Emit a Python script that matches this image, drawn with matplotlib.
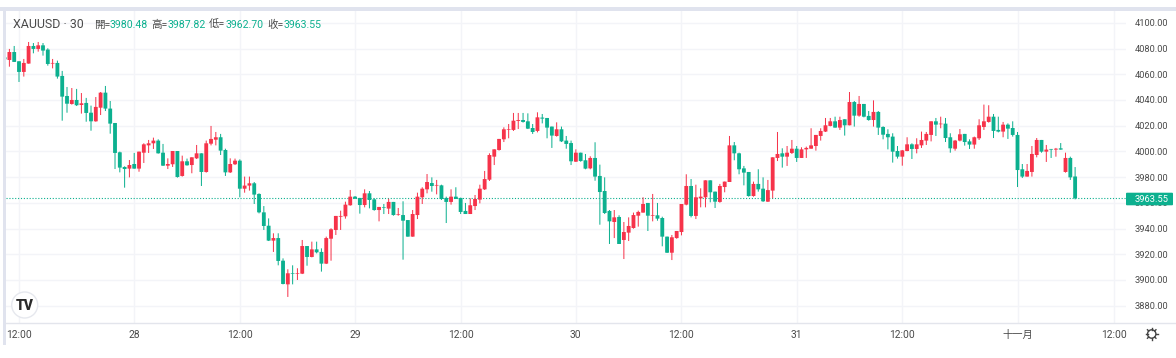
import numpy as np
from matplotlib import pyplot as plt
from matplotlib.patches import Rectangle, Circle, FancyBboxPatch

plt.rcParams['font.family'] = ['Roboto', 'Noto Sans CJK TC', 'DejaVu Sans']

W, H = 1176, 358
GREEN = '#0CB08F'
RED = '#F6334A'
GRID = '#F3F4F8'
BAND = '#E0E3EE'
TEXT = '#4A4A4A'

first_bar = -3
opens = [4073.2, 4071.1, 4077.3, 4070.1, 4061.8, 4068.3, 4082.0, 4079.7, 4082.5, 4079.2, 4068.3, 4068.8,
         4058.7, 4043.1, 4036.9, 4040.0, 4036.1, 4037.7, 4030.1, 4023.4, 4034.0, 4045.7, 4033.3, 4022.1,
         3999.3, 3987.9, 3986.6, 3990.2, 3986.6, 3999.0, 4004.7, 4006.3, 4008.4, 3999.0, 3988.9, 3990.0,
         4000.3, 3980.9, 3992.3, 3989.4, 3994.6, 3998.5, 3984.0, 4006.0, 4009.1, 4011.0, 4001.1, 3983.7,
         3990.0, 3992.8, 3971.0, 3973.4, 3975.2, 3966.9, 3952.6, 3942.2, 3930.6, 3932.6, 3915.0, 3896.6,
         3905.2, 3904.9, 3904.9, 3926.4, 3917.9, 3923.8, 3921.8, 3912.7, 3932.1, 3938.9, 3949.2, 3949.5,
         3958.1, 3964.8, 3963.8, 3958.3, 3967.4, 3962.7, 3954.4, 3956.5, 3955.5, 3960.7, 3950.8, 3950.5,
         3946.6, 3933.7, 3950.5, 3964.3, 3970.5, 3975.4, 3973.4, 3973.6, 3963.8, 3960.7, 3964.8, 3963.8,
         3953.7, 3951.3, 3957.5, 3962.5, 3970.5, 3978.0, 3995.9, 4001.1, 4009.4, 4016.9, 4016.7, 4023.7,
         4024.4, 4023.4, 4018.2, 4015.9, 4026.3, 4026.0, 4019.3, 4012.0, 4017.2, 4008.4, 4006.5, 3992.0,
         3999.0, 3993.1, 3986.8, 3994.9, 3980.9, 3969.2, 3953.7, 3945.1, 3949.0, 3931.1, 3936.8, 3940.4,
         3950.0, 3952.4, 3959.9, 3949.8, 3950.3, 3948.2, 3933.7, 3921.2, 3932.6, 3937.3, 3958.6, 3973.1,
         3949.8, 3963.5, 3964.3, 3977.5, 3968.7, 3960.7, 3972.3, 3976.2, 4004.7, 3998.5, 3986.8, 3984.0,
         3965.3, 3974.7, 3971.0, 3960.9, 3969.5, 3994.9, 3998.5, 3995.9, 3998.8, 4002.1, 3994.9, 4001.6,
         4002.1, 4004.2, 4012.0, 4015.4, 4019.8, 4023.4, 4018.5, 4025.0, 4020.3, 4038.4, 4027.8, 4036.9,
         4027.6, 4024.4, 4030.7, 4019.0, 4013.6, 4011.5, 4000.3, 3995.9, 4000.3, 4005.5, 4001.9, 4004.7,
         4008.4, 4012.8, 4023.4, 4021.1, 4021.6, 4011.0, 4002.1, 4008.4, 4013.6, 4007.8, 4005.3, 4010.2,
         4019.0, 4022.9, 4027.0, 4016.7, 4015.4, 4020.8, 4018.2, 4012.8, 3986.1, 3980.4, 3984.0, 3997.2,
         4008.9, 3999.8, 4001.9, 4001.4, 4002.4, 3984.0, 3994.9, 3980.48]
closes = [4071.6, 4077.3, 4069.6, 4061.8, 4068.8, 4082.0, 4079.7, 4082.5, 4078.4, 4068.0, 4068.8, 4058.2,
          4042.6, 4037.1, 4040.0, 4035.9, 4037.4, 4029.9, 4023.4, 4034.6, 4045.7, 4033.3, 4021.6, 3998.8,
          3987.4, 3986.3, 3989.4, 3986.6, 3999.8, 4005.5, 4006.3, 4008.4, 3998.5, 3988.9, 3990.2, 4000.3,
          3980.1, 3992.3, 3989.2, 3995.4, 3998.5, 3984.0, 4006.3, 4009.7, 4011.0, 4000.6, 3983.7, 3990.2,
          3992.8, 3971.0, 3973.4, 3975.2, 3966.4, 3952.6, 3942.0, 3930.6, 3932.6, 3914.8, 3896.9, 3905.2,
          3904.9, 3905.2, 3926.4, 3917.9, 3923.8, 3921.5, 3912.7, 3932.6, 3939.4, 3949.8, 3949.8, 3958.6,
          3964.8, 3963.2, 3958.3, 3967.4, 3962.2, 3954.4, 3956.8, 3956.0, 3960.7, 3950.5, 3951.3, 3946.1,
          3933.7, 3951.3, 3964.8, 3971.0, 3976.2, 3973.1, 3973.9, 3963.0, 3960.7, 3964.8, 3963.0, 3952.9,
          3951.3, 3958.1, 3963.0, 3971.0, 3978.5, 3997.2, 4001.6, 4009.7, 4017.2, 4017.4, 4023.9, 4024.4,
          4022.9, 4017.7, 4015.1, 4026.5, 4025.5, 4018.5, 4012.3, 4017.2, 4007.8, 4005.8, 3992.3, 3999.0,
          3992.5, 3986.6, 3994.9, 3980.4, 3968.4, 3952.1, 3945.6, 3948.7, 3928.0, 3937.3, 3942.0, 3950.5,
          3952.9, 3959.1, 3950.0, 3950.3, 3947.7, 3933.7, 3921.2, 3933.2, 3938.1, 3959.1, 3973.1, 3949.8,
          3964.3, 3964.8, 3977.5, 3968.2, 3960.9, 3973.1, 3976.5, 4004.7, 3998.5, 3986.1, 3983.5, 3965.3,
          3974.7, 3970.5, 3961.2, 3969.9, 3995.4, 3998.0, 3995.9, 3999.0, 4002.1, 3994.9, 4001.6, 4002.7,
          4004.7, 4012.8, 4015.9, 4020.3, 4023.4, 4018.5, 4024.4, 4020.3, 4038.4, 4027.8, 4036.9, 4027.0,
          4024.4, 4030.7, 4018.5, 4013.0, 4011.0, 3999.8, 3995.9, 4000.8, 4005.5, 4001.9, 4005.5, 4008.9,
          4013.6, 4023.4, 4020.8, 4021.6, 4010.4, 4002.4, 4008.4, 4013.3, 4007.3, 4005.3, 4011.0, 4020.3,
          4023.4, 4027.0, 4015.9, 4015.4, 4020.8, 4017.7, 4012.8, 3985.5, 3980.4, 3984.8, 3998.0, 4008.9,
          3999.8, 4001.4, 4001.4, 4002.1, 4001.4, 3994.9, 3979.8, 3963.55]
highs = [4073.2, 4079.7, 4082.0, 4070.1, 4071.9, 4085.1, 4084.3, 4085.1, 4084.3, 4080.2, 4071.9, 4070.6,
         4062.6, 4050.1, 4049.3, 4048.6, 4045.4, 4041.6, 4035.6, 4042.3, 4046.2, 4050.9, 4039.2, 4022.1,
         3999.8, 3988.4, 3993.3, 3998.8, 3999.8, 4006.3, 4008.9, 4010.7, 4009.4, 4005.8, 3994.6, 4000.3,
         4000.3, 3996.7, 3994.4, 3995.4, 4005.0, 3998.5, 4008.4, 4019.8, 4015.1, 4013.6, 4002.1, 3994.6,
         3994.4, 3993.8, 3980.4, 3980.4, 3976.2, 3967.4, 3957.5, 3947.9, 3936.3, 3936.3, 3916.8, 3908.3,
         3911.4, 3909.1, 3931.1, 3926.4, 3929.8, 3929.8, 3924.6, 3933.7, 3940.2, 3949.8, 3953.9, 3960.9,
         3970.0, 3965.3, 3963.8, 3970.5, 3969.2, 3963.5, 3956.8, 3959.1, 3963.2, 3960.7, 3956.0, 3961.2,
         3946.6, 3954.4, 3967.9, 3972.1, 3982.4, 3979.8, 3977.8, 3974.1, 3964.8, 3970.5, 3972.1, 3964.0,
         3959.9, 3963.5, 3966.1, 3974.1, 3984.8, 3998.5, 4001.6, 4009.7, 4018.7, 4021.3, 4029.9, 4029.9,
         4029.9, 4029.6, 4021.3, 4030.4, 4029.1, 4026.0, 4019.3, 4022.6, 4019.3, 4012.0, 4008.4, 4001.6,
         3999.0, 3998.0, 3996.2, 4007.1, 3989.7, 3979.8, 3954.4, 3954.4, 3950.3, 3945.1, 3948.7, 3952.4,
         3953.9, 3964.3, 3959.9, 3966.9, 3959.9, 3949.2, 3933.7, 3935.0, 3938.1, 3959.1, 3982.2, 3978.5,
         3974.1, 3971.3, 3977.5, 3977.5, 3968.7, 3974.7, 3976.5, 4012.0, 4007.3, 3999.0, 3988.7, 3984.0,
         3976.5, 3986.1, 3979.8, 3977.8, 3995.4, 4015.1, 4002.4, 4004.2, 4008.9, 4004.2, 4003.2, 4003.7,
         4018.0, 4012.8, 4018.0, 4026.0, 4026.0, 4027.0, 4027.0, 4025.0, 4046.2, 4039.2, 4043.1, 4036.9,
         4031.4, 4039.7, 4031.4, 4019.5, 4017.2, 4014.1, 4004.2, 4001.1, 4011.0, 4006.3, 4010.2, 4015.4,
         4015.1, 4023.4, 4026.0, 4027.0, 4026.0, 4014.1, 4008.9, 4017.4, 4013.6, 4009.4, 4011.5, 4025.0,
         4036.4, 4035.9, 4029.1, 4027.0, 4022.9, 4021.8, 4023.4, 4015.1, 3990.2, 3990.2, 4004.2, 4010.4,
         4008.9, 4005.0, 4001.9, 4002.7, 4006.5, 3999.0, 3995.9, 3987.82]
lows = [4071.6, 4065.9, 4069.6, 4054.0, 4058.2, 4068.3, 4076.3, 4077.6, 4074.5, 4066.7, 4064.6, 4056.6,
        4023.9, 4030.1, 4036.4, 4035.3, 4029.4, 4023.1, 4016.1, 4023.1, 4028.3, 4031.4, 4013.8, 3986.3,
        3983.7, 3971.8, 3979.8, 3986.6, 3984.2, 3991.0, 3998.8, 4001.9, 3998.3, 3988.7, 3986.3, 3987.9,
        3979.6, 3980.4, 3988.9, 3983.0, 3994.1, 3973.1, 3983.5, 4004.7, 4004.7, 3997.2, 3980.9, 3983.2,
        3989.4, 3964.3, 3967.9, 3969.5, 3959.1, 3951.8, 3938.9, 3930.3, 3921.8, 3911.4, 3896.6, 3886.8,
        3896.6, 3900.0, 3904.6, 3911.1, 3917.6, 3920.7, 3906.5, 3912.4, 3915.0, 3935.0, 3938.9, 3947.7,
        3957.8, 3963.0, 3951.6, 3956.5, 3955.7, 3953.9, 3945.6, 3951.3, 3951.3, 3950.0, 3950.0, 3915.8,
        3933.7, 3933.7, 3947.4, 3959.1, 3967.4, 3968.7, 3966.6, 3962.2, 3944.3, 3958.6, 3963.0, 3951.3,
        3951.3, 3951.3, 3954.4, 3959.6, 3970.0, 3977.0, 3989.4, 4000.6, 4007.3, 4010.2, 4015.9, 4017.4,
        4022.4, 4017.4, 4013.6, 4014.8, 4021.8, 4010.2, 4002.7, 4011.5, 4007.3, 4002.1, 3989.4, 3991.8,
        3992.0, 3986.1, 3986.1, 3977.2, 3943.0, 3951.3, 3928.0, 3932.6, 3928.0, 3916.3, 3930.3, 3939.9,
        3941.5, 3952.4, 3938.1, 3945.6, 3946.1, 3926.2, 3921.0, 3915.5, 3932.1, 3934.7, 3958.1, 3948.7,
        3947.4, 3956.5, 3956.5, 3960.4, 3956.0, 3960.1, 3968.2, 3976.2, 3993.1, 3982.2, 3973.6, 3964.8,
        3964.8, 3968.7, 3960.7, 3960.7, 3963.5, 3992.5, 3987.4, 3988.7, 3998.0, 3991.8, 3994.9, 3994.9,
        4002.1, 4000.6, 4008.4, 4015.1, 4019.5, 4018.5, 4016.7, 4012.3, 4020.3, 4019.3, 4027.0, 4026.5,
        4023.9, 4019.3, 4012.8, 4009.4, 4001.6, 3991.3, 3994.4, 3988.9, 4000.1, 3994.1, 3998.5, 4002.7,
        4005.0, 4007.8, 4012.0, 4018.0, 4007.3, 3999.0, 4000.6, 4007.8, 4004.5, 4001.9, 4002.1, 4008.9,
        4016.7, 4022.4, 4010.4, 4014.8, 4011.0, 4009.7, 4011.5, 3972.3, 3979.3, 3980.4, 3980.4, 3995.4,
        3999.0, 3991.8, 3994.9, 3995.9, 4001.4, 3983.5, 3977.8, 3962.70]

price_ticks = [4100, 4080, 4060, 4040, 4020, 4000, 3980, 3960, 3940, 3920, 3900, 3880]
time_ticks = [0, 24, 46, 70, 92, 116, 138, 162, 184, 208, 228]
time_labels = ['12:00', '28', '12:00', '29', '12:00', '30', '12:00', '31', '12:00', '十一月', '12:00']
symbol = 'XAUUSD · 30'
ohlc_names = ['開=', '高=', '低=', '收=']
ohlc_values = ['3980.48', '3987.82', '3962.70', '3963.55']
last_price = 3963.55

o = np.array(opens)
c = np.array(closes)
h = np.array(highs)
l = np.array(lows)
x = np.arange(first_bar, first_bar + len(o))
colors = [RED if b >= a else GREEN for a, b in zip(o, c)]

fig = plt.figure(figsize=(W / 100, H / 100), dpi=100)
fig.patch.set_facecolor('white')

# chart area, 6..1126 px across and 11..323 px down
ax = fig.add_axes([6 / W, 1 - 323.3 / H, 1120 / W, 312.3 / H])
ax.set_xlim(-2.708, 230.6)
ax.set_ylim(3866.3, 4109.2)
ax.set_yticks(price_ticks, ['%.2f' % p for p in price_ticks])
ax.set_xticks(time_ticks, time_labels)
ax.yaxis.tick_right()
ax.tick_params(axis='y', length=0, pad=6.2, labelsize=6.7, labelcolor=TEXT)
ax.tick_params(axis='x', length=0, pad=4.5, labelsize=7.4, labelcolor=TEXT)
ax.grid(True, color=GRID, linewidth=1)
ax.set_axisbelow(True)
for s in ax.spines.values():
    s.set_visible(False)

wicks = ax.vlines(x, l, h, colors=colors, linewidth=0.72, zorder=3)
wicks.set_snap(False)
bars = ax.bar(x, np.maximum(np.abs(c - o), 0.5), bottom=np.minimum(o, c), width=0.8,
              color=colors, linewidth=0, zorder=4)
for b in bars:
    b.set_snap(False)
ax.axhline(last_price, color=GREEN, linewidth=0.8, linestyle=(0, (1, 1.6)), zorder=2)

# everything else goes on a pixel overlay
top = fig.add_axes([0, 0, 1, 1], facecolor='none')
top.set_xlim(0, W)
top.set_ylim(H, 0)
top.axis('off')
top.add_patch(Rectangle((0, 7.3), W, 3.7, color=BAND, linewidth=0))
top.add_patch(Rectangle((3, 7.3), 3, 338, color=BAND, linewidth=0))
top.plot([6, W], [323.3, 323.3], color='#E3E5EC', linewidth=1)

top.text(13, 24, symbol, fontsize=8.9, color=TEXT, va='center', ha='left')
for name, value, nx, vx in zip(ohlc_names, ohlc_values, [94, 151, 209, 267], [109.7, 167.7, 225.3, 283.7]):
    top.text(nx, 24.5, name, fontsize=7.6, color=TEXT, va='center', ha='left')
    top.text(vx, 24.5, value, fontsize=7.6, color=GREEN, va='center', ha='left')

# last price badge
top.add_patch(FancyBboxPatch((1126.5, 193.2), 46, 11.6, boxstyle='round,pad=0.5,rounding_size=1',
                             color=GREEN, linewidth=0))
top.text(1134.7, 199, '%.2f' % last_price, fontsize=6.7, color='white', va='center', ha='left')

# logo
top.add_patch(Circle((24.7, 305), 13, facecolor='white', edgecolor='#E6E8EE', linewidth=1))
top.text(24.7, 305.5, 'TV', fontsize=10, color='#2A2A2A', fontweight='black',
         va='center', ha='center')

# settings gear
top.add_patch(Circle((1151.7, 334), 4.2, facecolor='none', edgecolor='#444444', linewidth=1))
for a in np.arange(8) * np.pi / 4:
    top.plot([1151.7 + 4.2 * np.cos(a), 1151.7 + 6 * np.cos(a)],
             [334 + 4.2 * np.sin(a), 334 + 6 * np.sin(a)], color='#444444', linewidth=1)

fig.savefig('out.png', dpi=100)
